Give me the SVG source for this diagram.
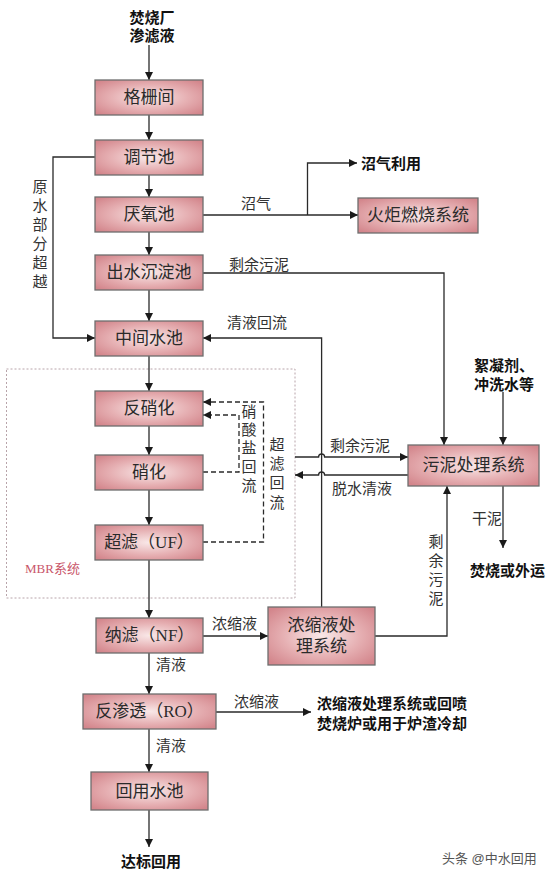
<svg xmlns="http://www.w3.org/2000/svg" width="556" height="879" viewBox="0 0 556 879">
<defs>
<radialGradient id="pink" cx="50%" cy="50%" r="65%">
<stop offset="0" stop-color="#f9e8e8"/>
<stop offset="0.55" stop-color="#e6b0b3"/>
<stop offset="1" stop-color="#d3868c"/>
</radialGradient>
<marker id="ah" viewBox="0 0 10 10" refX="10" refY="5" markerWidth="9" markerHeight="8" markerUnits="userSpaceOnUse" orient="auto">
<path d="M0,0 L10,5 L0,10 z" fill="#1a1a1a"/>
</marker>
<style>
.box{fill:url(#pink);stroke:#6e6e6e;stroke-width:1.3}
.bt{font-family:"Liberation Serif","Noto Sans CJK SC",serif;font-size:17px;fill:#2a2a2a;text-anchor:middle;dominant-baseline:central}
.lb{font-family:"Liberation Serif","Noto Sans CJK SC",serif;font-size:15px;fill:#333;dominant-baseline:central}
.vt{font-family:"Liberation Serif","Noto Sans CJK SC",serif;font-size:15px;fill:#333;text-anchor:middle;dominant-baseline:central}
.bd{font-family:"Liberation Sans","Noto Sans CJK SC",sans-serif;font-size:15px;font-weight:bold;fill:#111;dominant-baseline:central}
.ln{fill:none;stroke:#2a2a2a;stroke-width:1.3}
.ar{marker-end:url(#ah)}
.ds{fill:none;stroke:#2a2a2a;stroke-width:1.3;stroke-dasharray:5,3}
</style>
</defs>
<rect width="556" height="879" fill="#ffffff"/>

<g id="mbr">
<rect x="6.5" y="369" width="288.5" height="229" fill="none" stroke="#b8a4aa" stroke-width="1" stroke-dasharray="2,2"/>
<text x="25" y="568" font-family="'Liberation Serif','Noto Sans CJK SC',serif" font-size="13" fill="#c9566a" dominant-baseline="central">MBR系统</text>
</g>

<g id="connectors">
<path class="ln ar" d="M149,45 V80"/>
<path class="ln ar" d="M149,115 V140"/>
<path class="ln ar" d="M149,175 V197"/>
<path class="ln ar" d="M149,232 V255"/>
<path class="ln ar" d="M149,290 V321"/>
<path class="ln ar" d="M149,356 V391"/>
<path class="ln ar" d="M149,426 V455"/>
<path class="ln ar" d="M149,490 V525"/>
<path class="ln ar" d="M149,560 V618"/>
<path class="ln ar" d="M149,653 V694"/>
<path class="ln ar" d="M149,729 V772"/>
<path class="ln ar" d="M149,810 V847"/>
<path class="ln ar" d="M95,157 H53 V338 H95"/>
<path class="ln ar" d="M203,215 H358"/>
<path class="ln ar" d="M307.5,215 V163 H357"/>
<path class="ln ar" d="M203,273 H444 V445"/>
<path class="ln ar" d="M321.6,607 V338 H203"/>
<path class="ln ar" d="M295,457 H318.6 A3,3 0 0 1 324.6,457 H408"/>
<path class="ln ar" d="M408,475 H324.6 A3,3 0 0 0 318.6,475 H295"/>
<path class="ln ar" d="M503,392 V445"/>
<path class="ln ar" d="M503,486 V548"/>
<path class="ln ar" d="M375,636 H447 V486"/>
<path class="ln ar" d="M203,636 H268"/>
<path class="ln ar" d="M216,712 H311"/>
<path class="ds ar" d="M203,472 H239 V415 H203"/>
<path class="ds ar" d="M203,542 H263.5 V402 H203"/>
</g>

<g id="n-gezha"><rect class="box" x="95" y="80" width="108" height="35"/><text class="bt" x="149" y="97.5">格栅间</text></g>
<g id="n-tiaojie"><rect class="box" x="95" y="140" width="108" height="35"/><text class="bt" x="149" y="157.5">调节池</text></g>
<g id="n-yanyang"><rect class="box" x="95" y="197" width="108" height="35"/><text class="bt" x="149" y="214.5">厌氧池</text></g>
<g id="n-chenian"><rect class="box" x="95" y="255" width="108" height="35"/><text class="bt" x="149" y="272.5">出水沉淀池</text></g>
<g id="n-huoju"><rect class="box" x="358" y="198" width="120" height="35"/><text class="bt" x="418" y="215.5">火炬燃烧系统</text></g>
<g id="n-zhongjian"><rect class="box" x="95" y="321" width="108" height="35"/><text class="bt" x="149" y="338.5">中间水池</text></g>
<g id="n-fanxiaohua"><rect class="box" x="95" y="391" width="108" height="35"/><text class="bt" x="149" y="408.5">反硝化</text></g>
<g id="n-xiaohua"><rect class="box" x="95" y="455" width="108" height="35"/><text class="bt" x="149" y="472.5">硝化</text></g>
<g id="n-uf"><rect class="box" x="95" y="525" width="108" height="35"/><text class="bt" x="149" y="542.5">超滤（UF）</text></g>
<g id="n-wuni"><rect class="box" x="408" y="445" width="131" height="41"/><text class="bt" x="473.5" y="465.5">污泥处理系统</text></g>
<g id="n-nf"><rect class="box" x="96" y="618" width="107" height="35"/><text class="bt" x="149.5" y="635.5">纳滤（NF）</text></g>
<g id="n-nongsuo"><rect class="box" x="268" y="607" width="107" height="58"/><text class="bt" x="321.5" y="625">浓缩液处</text><text class="bt" x="321.5" y="646">理系统</text></g>
<g id="n-ro"><rect class="box" x="83" y="694" width="133" height="35"/><text class="bt" x="149.5" y="711.5">反渗透（RO）</text></g>
<g id="n-huiyong"><rect class="box" x="91" y="772" width="117" height="38"/><text class="bt" x="149.5" y="791">回用水池</text></g>

<g id="labels">
<text class="bd" x="152" y="17" text-anchor="middle">焚烧厂</text>
<text class="bd" x="152" y="35" text-anchor="middle">渗滤液</text>
<text class="bd" x="361" y="163">沼气利用</text>
<text class="lb" x="241" y="204">沼气</text>
<text class="lb" x="229" y="265">剩余污泥</text>
<text class="vt" x="40"><tspan x="40" y="187">原</tspan><tspan x="40" y="206">水</tspan><tspan x="40" y="225">部</tspan><tspan x="40" y="244">分</tspan><tspan x="40" y="263">超</tspan><tspan x="40" y="282">越</tspan></text>
<text class="lb" x="227" y="323">清液回流</text>
<text class="vt" x="249"><tspan x="249" y="412">硝</tspan><tspan x="249" y="430">酸</tspan><tspan x="249" y="448">盐</tspan><tspan x="249" y="467">回</tspan><tspan x="249" y="486">流</tspan></text>
<text class="vt" x="277"><tspan x="277" y="445">超</tspan><tspan x="277" y="464">滤</tspan><tspan x="277" y="483">回</tspan><tspan x="277" y="503">流</tspan></text>
<text class="lb" x="330" y="446">剩余污泥</text>
<text class="lb" x="332" y="489">脱水清液</text>
<text class="bd" x="474" y="365">絮凝剂、</text>
<text class="bd" x="474" y="384">冲洗水等</text>
<text class="lb" x="472" y="519">干泥</text>
<text class="bd" x="470" y="570">焚烧或外运</text>
<text class="vt" x="436"><tspan x="436" y="542">剩</tspan><tspan x="436" y="561">余</tspan><tspan x="436" y="580">污</tspan><tspan x="436" y="599">泥</tspan></text>
<text class="lb" x="212" y="624">浓缩液</text>
<text class="lb" x="156" y="665">清液</text>
<text class="lb" x="234" y="702">浓缩液</text>
<text class="bd" x="317" y="703" font-size="16.5">浓缩液处理系统或回喷</text>
<text class="bd" x="317" y="723" font-size="16.5">焚烧炉或用于炉渣冷却</text>
<text class="lb" x="156" y="746">清液</text>
<text class="bd" x="151" y="861" text-anchor="middle">达标回用</text>
<text x="442" y="858" font-family="'Liberation Sans','Noto Sans CJK SC',sans-serif" font-size="13" fill="#555" dominant-baseline="central">头条 @中水回用</text>
</g>
</svg>
